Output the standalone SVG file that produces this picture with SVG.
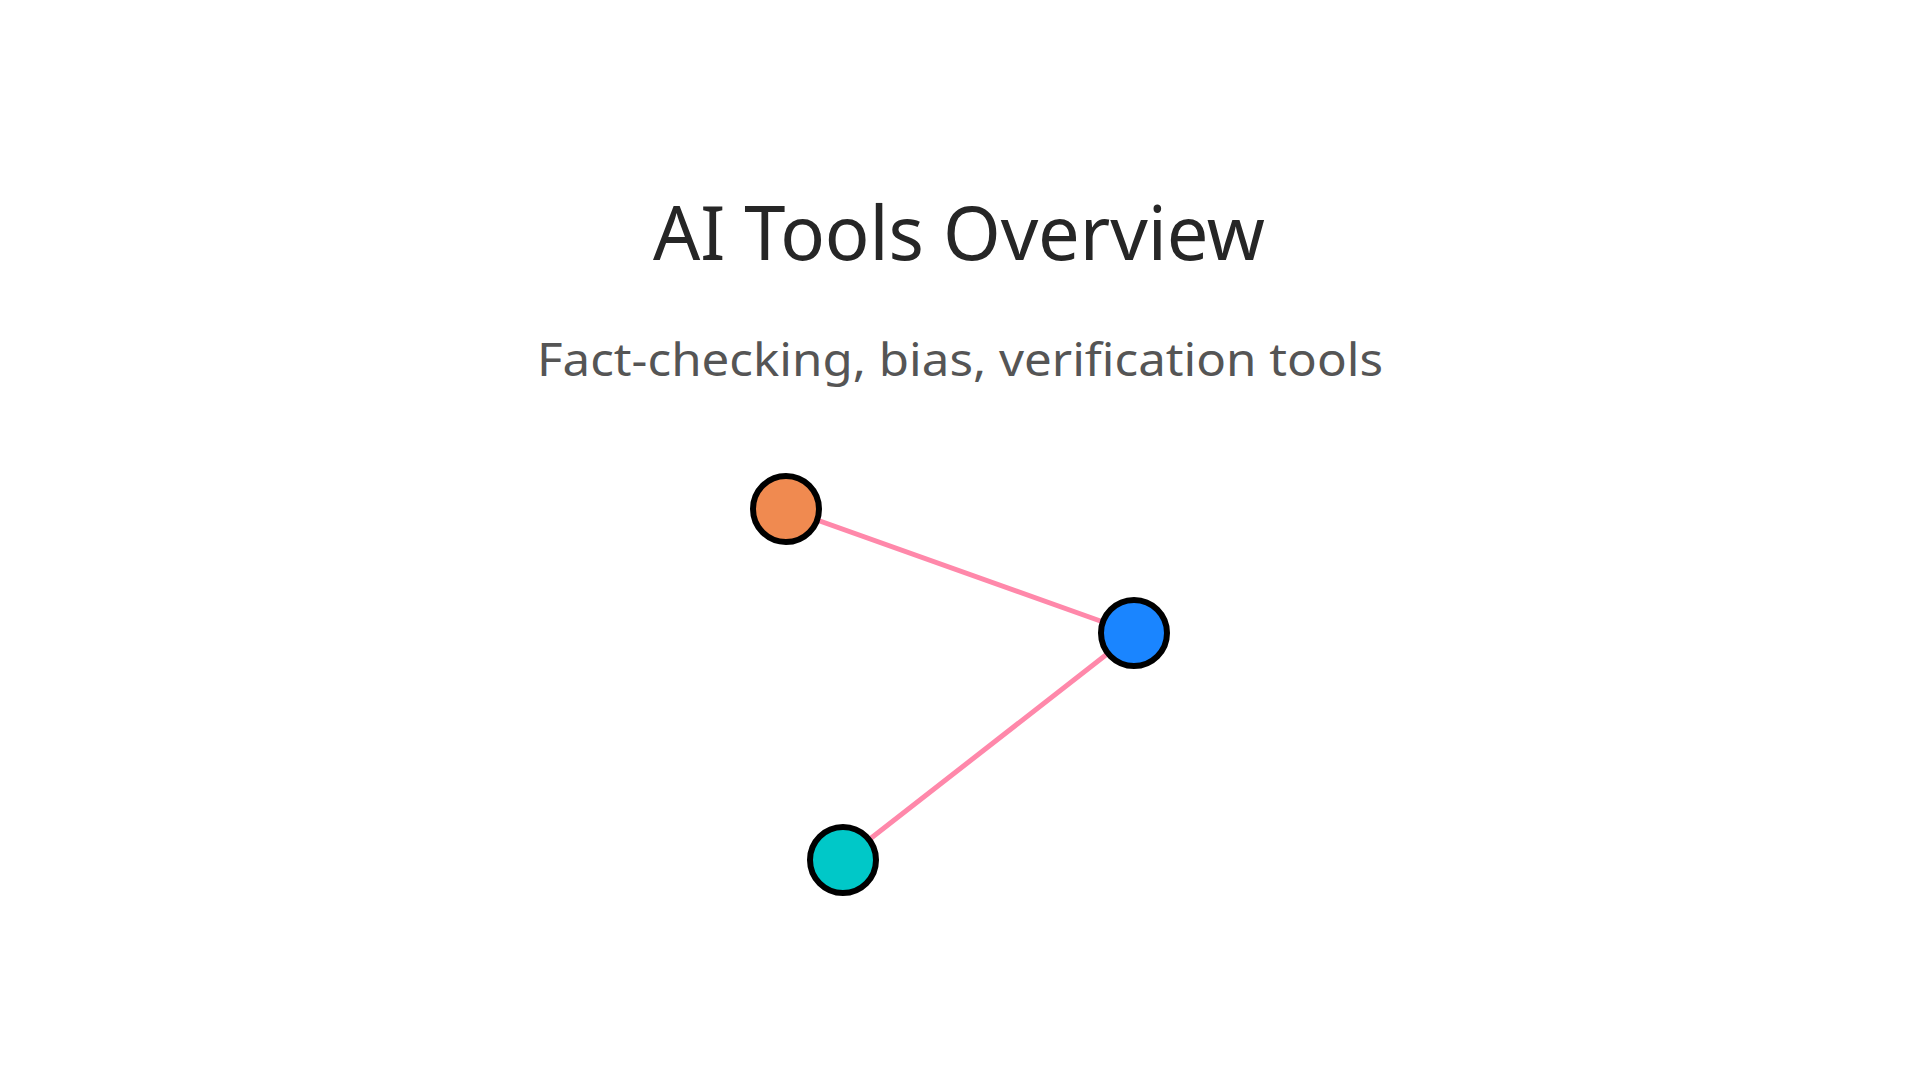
<svg xmlns="http://www.w3.org/2000/svg" width="1920" height="1080" viewBox="0 0 1920 1080">
<style>
.title{font-family:"Noto Sans","DejaVu Sans",sans-serif;font-size:74px;fill:#262626;text-anchor:middle}
.sub{font-family:"Noto Sans","DejaVu Sans",sans-serif;font-size:45px;fill:#555555;text-anchor:middle}
.edge{stroke:#FF88AA;stroke-width:5;fill:none;stroke-linecap:round}
.node{stroke:#000000;stroke-width:6}
</style>
<rect x="0" y="0" width="1920" height="1080" fill="#FFFFFF"/>
<text class="title" x="959" y="260" textLength="612" lengthAdjust="spacing">AI Tools Overview</text>
<text class="sub" x="960" y="376" textLength="846" lengthAdjust="spacingAndGlyphs">Fact-checking, bias, verification tools</text>
<g id="connectors">
<line class="edge" x1="786" y1="509" x2="1134" y2="633"/>
<line class="edge" x1="1134" y1="633" x2="843" y2="860"/>
</g>
<g id="node-orange"><circle class="node" cx="786" cy="509" r="33" fill="#F08A50"/></g>
<g id="node-blue"><circle class="node" cx="1134" cy="633" r="33" fill="#1A85FF"/></g>
<g id="node-teal"><circle class="node" cx="843" cy="860" r="33" fill="#00C8C8"/></g>
</svg>
